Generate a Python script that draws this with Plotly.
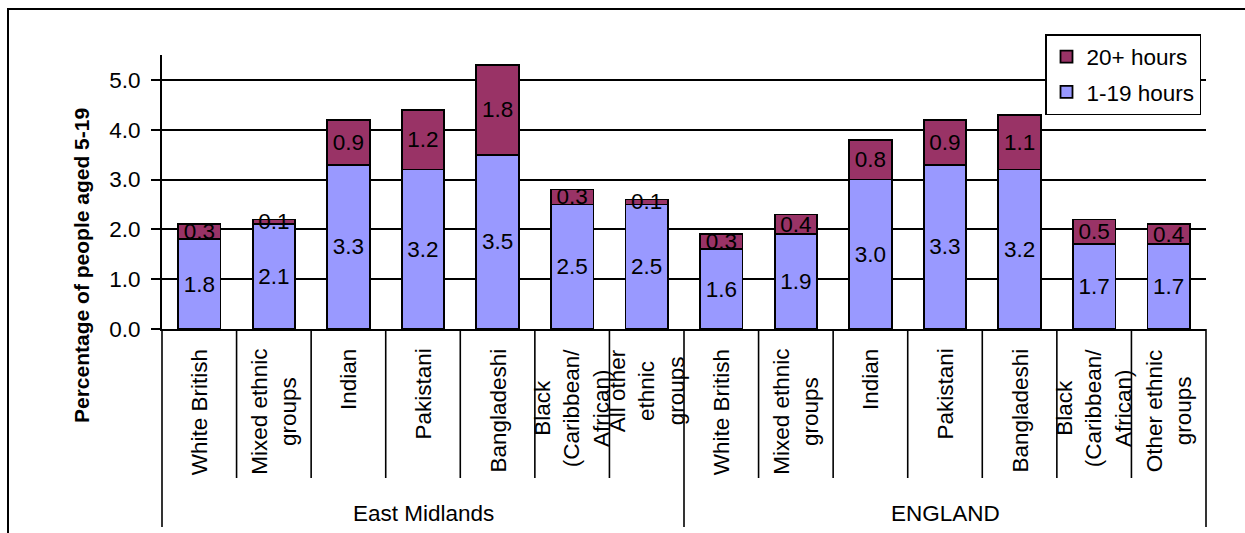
import plotly.graph_objects as go

# Regions and the ethnic groups shown under each region
regions = ["East Midlands", "ENGLAND"]
groups_em = ["White British", "Mixed ethnic<br>groups", "Indian", "Pakistani",
             "Bangladeshi", "Black<br>(Caribbean/<br>African)", "All other<br>ethnic<br>groups"]
groups_eng = ["White British", "Mixed ethnic<br>groups", "Indian", "Pakistani",
              "Bangladeshi", "Black<br>(Caribbean/<br>African)", "Other ethnic<br>groups"]

# Percentage of people aged 5-19 providing unpaid care
hours_1_19_em = [1.8, 2.1, 3.3, 3.2, 3.5, 2.5, 2.5]
hours_20_em = [0.3, 0.1, 0.9, 1.2, 1.8, 0.3, 0.1]
hours_1_19_eng = [1.6, 1.9, 3.0, 3.3, 3.2, 1.7, 1.7]
hours_20_eng = [0.3, 0.4, 0.8, 0.9, 1.1, 0.5, 0.4]

y_ticks = [0, 1, 2, 3, 4, 5]

labels = groups_em + groups_eng
low = hours_1_19_em + hours_1_19_eng
high = hours_20_em + hours_20_eng
pos = list(range(len(labels)))
n_em = len(groups_em)

FONT = "Liberation Sans, Arial, sans-serif"
FS = 22.5
W, H = 1245, 533
ML, MR, MT, MB = 162, 39, 55, 204
PW, PH = W - ML - MR, H - MT - MB
XMIN, XMAX = -0.5, len(labels) - 0.5


def px_x(x):
    return (x - ML) / PW


def px_y(y):
    return (H - MB - y) / PH


def pos_x(p):
    return (p - XMIN) / (XMAX - XMIN)


fig = go.Figure()
fig.add_bar(x=pos, y=low, name="1-19 hours", legendgroup="b", legendrank=2,
            marker=dict(color="#9999FF", line=dict(color="black", width=1.8)),
            width=0.57, texttemplate="%{y:.1f}", textposition="inside",
            insidetextanchor="middle", textangle=0,
            textfont=dict(size=FS, color="black", family=FONT))
fig.add_bar(x=pos, y=high, name="20+ hours", legendgroup="a", legendrank=1,
            marker=dict(color="#993366", line=dict(color="black", width=1.8)),
            width=0.57, texttemplate="%{y:.1f}", textposition="inside",
            insidetextanchor="middle", textangle=0,
            textfont=dict(size=FS, color="black", family=FONT))

shapes = []
# divider lines between categories on the two-level category axis
for k in range(len(labels) + 1):
    edge = k - 0.5
    is_group_edge = k in (0, n_em, len(labels))
    shapes.append(dict(type="line", xref="paper", yref="paper",
                       x0=pos_x(edge), x1=pos_x(edge),
                       y0=0, y1=px_y(527 if is_group_edge else 478),
                       line=dict(color="black", width=1.6)))
# chart frame
shapes.append(dict(type="rect", xref="paper", yref="paper",
                   x0=px_x(8), x1=px_x(1260), y0=px_y(9), y1=px_y(560),
                   line=dict(color="black", width=2), fillcolor="rgba(0,0,0,0)",
                   layer="below"))

annotations = []
for p, lab in zip(pos, labels):
    annotations.append(dict(x=p, xref="x", y=px_y(347), yref="paper",
                            text=lab, textangle=-90, showarrow=False,
                            xanchor="center", yanchor="top", align="center",
                            font=dict(size=FS, color="black", family=FONT)))
group_centres = [(n_em - 1) / 2, n_em + (len(groups_eng) - 1) / 2]
for c, reg in zip(group_centres, regions):
    annotations.append(dict(x=c, xref="x", y=px_y(513), yref="paper",
                            text=reg, showarrow=False, xanchor="center",
                            yanchor="middle",
                            font=dict(size=FS, color="black", family=FONT)))
annotations.append(dict(x=px_x(81), xref="paper", y=px_y(266), yref="paper",
                        text="<b>Percentage of people aged 5-19</b>",
                        textangle=-90, showarrow=False, xanchor="center",
                        yanchor="middle",
                        font=dict(size=21, color="black", family=FONT)))

fig.update_layout(
    width=W, height=H, autosize=False,
    margin=dict(l=ML, r=MR, t=MT, b=MB, pad=0),
    barmode="stack",
    paper_bgcolor="white", plot_bgcolor="white",
    font=dict(family=FONT, size=FS, color="black"),
    uniformtext=dict(minsize=FS, mode="show"),
    xaxis=dict(range=[XMIN, XMAX], showticklabels=False, ticks="",
               showgrid=False, zeroline=False, showline=True,
               linecolor="black", linewidth=2),
    yaxis=dict(range=[0, 5.5], tickvals=y_ticks, tickformat=".1f",
               ticks="outside", ticklen=9, tickwidth=1.6, tickcolor="black",
               ticklabelstandoff=6,
               showgrid=True, gridcolor="black", gridwidth=1.5,
               zeroline=False, showline=True, linecolor="black", linewidth=2,
               tickfont=dict(size=FS, color="black", family=FONT)),
    showlegend=True,
    legend=dict(x=px_x(1045), y=px_y(34), xanchor="left", yanchor="top",
                bordercolor="black", borderwidth=1.5, bgcolor="white",
                traceorder="grouped", tracegroupgap=3,
                font=dict(size=FS, color="black", family=FONT)),
    shapes=shapes,
    annotations=annotations,
)

fig.write_html("out.html")
